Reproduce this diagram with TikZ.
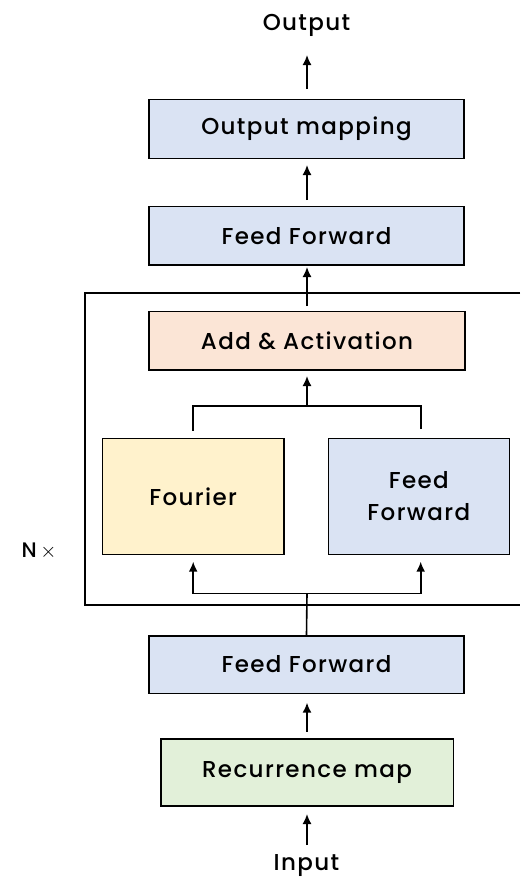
\documentclass[tikz,border=0pt]{standalone}
\usepackage{fontspec}
\setmainfont{Poppins}[UprightFont=* Medium, LetterSpace=6]
\usetikzlibrary{arrows.meta,positioning}
\definecolor{ffblue}{HTML}{DAE3F3}
\definecolor{addorange}{HTML}{FBE5D6}
\definecolor{fouyellow}{HTML}{FFF2CC}
\definecolor{recgreen}{HTML}{E2F0D9}
\tikzset{
  blk/.style={draw=black, line width=1.6pt, inner sep=0pt, font=\fontsize{23}{27}\selectfont},
  lbl/.style={font=\fontsize{23}{27}\selectfont, inner sep=0pt},
  flow/.style={line width=1.6pt, -{Latex[length=10pt,width=9pt]}},
  wire/.style={line width=1.6pt}
}
\begin{document}
\begin{tikzpicture}[x=1pt,y=-1pt]
  \useasboundingbox (0,0) rectangle (520,881);
  % outer block repeated N times
  \draw[wire] (520,292.7) -- (85,292.7) -- (85,605) -- (520,605);
  \node[lbl, font=\fontsize{21}{25}\selectfont] (nx) at (39,551) {N\,$\times$};
  % text ends
  \node[lbl] (out) at (306.5,25) {Output};
  \node[lbl] (in) at (306.5,866) {Input};
  % blocks
  \node[blk, fill=ffblue, minimum width=314.7pt, minimum height=59pt] (om) at (306.5,128.8) {Output mapping};
  \node[blk, fill=ffblue, minimum width=314.7pt, minimum height=58.3pt] (ff2) at (306.5,235.8) {Feed Forward};
  \node[blk, fill=addorange, minimum width=315.7pt, minimum height=58.3pt] (add) at (307,340.8) {Add \& Activation};
  \node[blk, fill=fouyellow, minimum width=181.7pt, minimum height=116pt] (fou) at (193.2,496.3) {Fourier};
  \node[blk, fill=ffblue, minimum width=181pt, minimum height=116pt, align=center] (ffi) at (418.8,496.3) {Feed\\[5pt]Forward};
  \node[blk, fill=ffblue, minimum width=314.7pt, minimum height=57.6pt] (ff1) at (306.5,664.5) {Feed Forward};
  \node[blk, fill=recgreen, minimum width=292.6pt, minimum height=66.7pt] (rec) at (307,772.6) {Recurrence map};
  % junction points
  \coordinate (jt) at (307,406);
  \coordinate (jb) at (307,593.3);
  % connectors
  \draw[flow] (307,845) -- (307,814);
  \draw[flow] (307,731.7) -- (307,702.7);
  \draw[wire] (ff1.north) -- (jb);
  \draw[flow] (jb) -| (fou.south |- 0,561.7);
  \draw[flow] (jb) -| (420.7,561.7);
  \draw[wire] (fou.north |- 0,430.7) |- (jt);
  \draw[wire] (420.7,429) |- (jt);
  \draw[flow] (jt) -- (307,376);
  \draw[flow] (307,306) -- (307,267);
  \draw[flow] (307,200) -- (307,165);
  \draw[flow] (307,89) -- (307,55);
\end{tikzpicture}
\end{document}
